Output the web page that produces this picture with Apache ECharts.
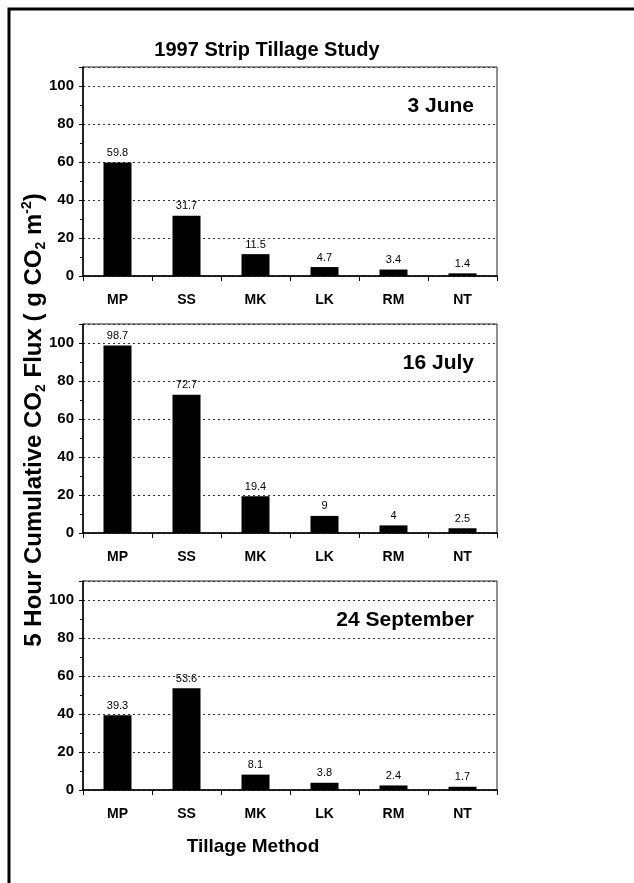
<!DOCTYPE html>
<html>
<head>
<meta charset="utf-8">
<script src="https://cdn.jsdelivr.net/npm/echarts@6/dist/echarts.min.js"></script>
<style>
  html, body { margin: 0; padding: 0; background: #fff; }
  #chart { width: 634px; height: 883px; }
</style>
</head>
<body>
<div id="chart"></div>
<script>
// tillage methods on the x axis
const methods = ['MP', 'SS', 'MK', 'LK', 'RM', 'NT']
// one panel per sampling date
const dates = ['3 June', '16 July', '24 September']
const june = [59.8, 31.7, 11.5, 4.7, 3.4, 1.4]
const july = [98.7, 72.7, 19.4, 9, 4, 2.5]
const september = [39.3, 53.6, 8.1, 3.8, 2.4, 1.7]
const panelValues = [june, july, september]

const FONT = 'Liberation Sans, Arial, sans-serif'
const panelTops = [67, 324, 581]
const panelHeight = 209

const chart = echarts.init(document.getElementById('chart'))

const grids = []
const xAxes = []
const yAxes = []
const series = []
const graphics = []

panelValues.forEach((vals, i) => {
  grids.push({
    left: 83,
    right: 137,
    top: panelTops[i],
    height: panelHeight,
    show: true,
    borderColor: '#222',
    borderWidth: 1,
    backgroundColor: 'transparent'
  })
  xAxes.push({
    type: 'category',
    gridIndex: i,
    data: methods,
    axisLine: { lineStyle: { color: '#000', width: 1.5 } },
    axisTick: { show: true, length: 5, lineStyle: { color: '#000' } },
    axisLabel: { color: '#000', fontFamily: FONT, fontWeight: 'bold', fontSize: 14, margin: 17 }
  })
  yAxes.push({
    type: 'value',
    gridIndex: i,
    min: 0,
    max: 110,
    interval: 20,
    axisLine: { show: true, lineStyle: { color: '#000', width: 1.5 } },
    axisTick: { show: true, length: 4, lineStyle: { color: '#000' } },
    minorTick: { show: true, splitNumber: 2, length: 3, lineStyle: { color: '#000' } },
    axisLabel: { color: '#000', fontFamily: FONT, fontWeight: 'bold', fontSize: 15, margin: 9, showMaxLabel: false },
    splitLine: { show: true, lineStyle: { color: '#333', width: 1, type: [2, 3] } }
  })
  series.push({
    type: 'bar',
    xAxisIndex: i,
    yAxisIndex: i,
    data: vals,
    barWidth: 28,
    itemStyle: { color: '#000' },
    label: {
      show: true,
      position: 'top',
      distance: 4,
      color: '#000',
      fontFamily: FONT,
      fontSize: 11
    },
    animation: false
  })
  graphics.push({
    type: 'text',
    right: 634 - 474,
    top: panelTops[i] + 29,
    style: {
      text: dates[i],
      fontFamily: FONT,
      fontWeight: 'bold',
      fontSize: 21,
      fill: '#000'
    }
  })
})

// outer frame, only top and left edges fall inside the picture
graphics.push({
  type: 'rect',
  shape: { x: 9, y: 9, width: 800, height: 1000 },
  style: { fill: 'none', stroke: '#000', lineWidth: 3 }
})

// vertical axis title with sub/superscripts
graphics.push({
  type: 'text',
  x: 34,
  y: 420,
  rotation: Math.PI / 2,
  style: {
    text: '5 Hour Cumulative CO{sub|2} Flux ( g CO{sub|2} m{sup|-2})',
    fontFamily: FONT,
    fontWeight: 'bold',
    fontSize: 24,
    fill: '#000',
    align: 'center',
    verticalAlign: 'middle',
    rich: {
      sub: { fontFamily: FONT, fontWeight: 'bold', fontSize: 14, verticalAlign: 'bottom', lineHeight: 28 },
      sup: { fontFamily: FONT, fontWeight: 'bold', fontSize: 14, verticalAlign: 'top', lineHeight: 28 }
    }
  }
})

chart.setOption({
  backgroundColor: '#fff',
  animation: false,
  title: [
    {
      text: '1997 Strip Tillage Study',
      left: 262,
      top: 35,
      textAlign: 'center',
      textStyle: { fontFamily: FONT, fontWeight: 'bold', fontSize: 20, color: '#000' }
    },
    {
      text: 'Tillage Method',
      left: 248,
      top: 832,
      textAlign: 'center',
      textStyle: { fontFamily: FONT, fontWeight: 'bold', fontSize: 19, color: '#000' }
    }
  ],
  grid: grids,
  xAxis: xAxes,
  yAxis: yAxes,
  series: series,
  graphic: graphics
})
</script>
</body>
</html>
